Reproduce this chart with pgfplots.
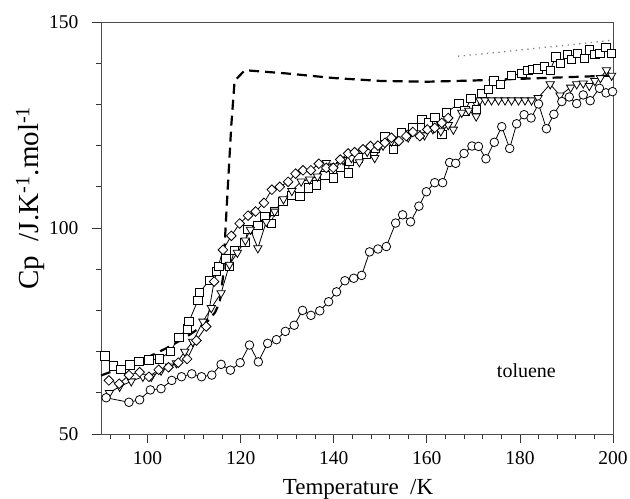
\documentclass[border=0pt]{standalone}
\usepackage{fontspec}
\setmainfont{Liberation Serif}
\usepackage{pgfplots}
\pgfplotsset{compat=1.18}
\begin{document}
\begin{tikzpicture}
\useasboundingbox (-101bp,-65bp) rectangle (529bp,434bp);
\begin{axis}[
  at={(0,0)}, anchor=south west,
  scale only axis, width=512bp, height=412bp,
  xmin=90, xmax=200, ymin=50, ymax=150,
  xtick={100,120,...,200}, ytick={50,100,150},
  minor xtick={92,96,104,108,112,116,124,128,132,136,144,148,152,156,164,168,172,176,184,188,192,196},
  minor ytick={60,70,80,90,110,120,130,140},
  tick align=outside, xtick pos=bottom, ytick pos=left,
  major tick length=9bp, minor tick length=5bp,
  axis line style={draw=black!70, line width=0.9pt},
  every tick/.style={draw=black!80, line width=0.8pt},
  /pgf/number format/assume math mode=true,
  tick label style={font=\fontsize{19.5bp}{22bp}\selectfont},
  xticklabel style={yshift=-5bp},
  yticklabel style={xshift=-10bp},
  xlabel={Temperature\ \ /K},
  ylabel={Cp\ \ /J.K\textsuperscript{-1}.mol\textsuperscript{-1}},
  xlabel style={font=\fontsize{23bp}{26bp}\selectfont, at={(axis description cs:0.502,-0.148)}, anchor=base},
  ylabel style={font=\fontsize{29bp}{32bp}\selectfont, at={(axis description cs:-0.138,0.573)}, anchor=center},
  clip=false,
]
% thick dashed curve
\addplot[black, line width=2.2pt, dash pattern=on 10bp off 6bp, no markers] coordinates {
(90,64.2)(95,66.3)(100,68.6)(104,70.8)(108,73.3)(111,75.6)(113,77.5)(114.5,79.5)(115.5,82)(116.2,88)(117,105)(118,125)(118.7,135.7)(120.9,138.3)(130,137.5)(140,136.4)(150,135.7)(160,135.5)(170,135.8)(180,136.2)(190,136.6)(200,137)
};
% dotted grey
\addplot[black!50, line width=1.3pt, dash pattern=on 1.3bp off 4.5bp, no markers] coordinates {
(166.7,141.7)(175,142.6)(185,143.8)(192,144.6)(200,145.6)
};
% squares
\addplot[black, line width=0.8pt, mark=square*, mark size=4.2bp, mark options={fill=white, solid}] coordinates {
(90.8,69.0)(92.6,66.5)(94.3,65.7)(96.2,66.8)(98.1,67.6)(100.3,68.0)(102.6,68.2)(104.9,70.0)(106.7,73.5)(108.5,75.5)(108.9,77.3)(110.8,82.4)(111.2,84.4)(113.3,87.3)(114.8,89.5)(115.3,90.7)(116.8,92.5)(117.6,90.7)(118.7,94.5)(120.9,96.5)(121.6,99.6)(123.7,100.6)(125.2,102.8)(126.6,101.1)(127.3,104.0)(129.1,106.5)(130.9,107.9)(132.7,107.7)(134.5,109.7)(136.3,110.5)(138.1,112.7)(139.9,112.2)(141.4,114.8)(143.1,113.4)(143.4,116.2)(145.2,117.0)(147.0,118.0)(149.0,119.3)(151.0,122.3)(152.8,119.1)(154.6,123.1)(157.0,124.3)(158.9,126.4)(160.4,125.6)(161.7,126.8)(163.2,122.7)(164.2,128.0)(166.9,130.2)(168.2,128.4)(169.5,131.4)(170.7,128.8)(171.8,132.7)(173.2,133.6)(174.4,135.7)(175.8,134.8)(178.2,137.0)(180.4,137.5)(181.7,138.3)(182.7,138.5)(183.9,138.6)(185.2,139.2)(186.5,138.3)(187.7,141.5)(188.7,140.0)(190.2,142.1)(191.1,140.9)(192.3,142.4)(193.8,141.1)(194.9,143.2)(196.1,142.1)(197.2,142.4)(198.5,143.8)(199.7,142.4)
};
% down triangles
\addplot[black, line width=0.8pt, mark=triangle*, mark size=4.8bp, mark options={fill=white, solid, rotate=180}] coordinates {
(91.8,60.0)(94.0,61.5)(96.5,62.8)(99.0,63.9)(100.8,63.9)(102.9,65.4)(104.7,66.4)(106.2,67.2)(108.0,70.0)(109.7,72.4)(111.9,77.3)(113.7,80.6)(115.8,84.2)(117.6,91.1)(119.3,94.0)(121.0,97.0)(122.1,99.6)(123.7,95.1)(125.5,101.5)(127.3,104.0)(129.2,107.0)(131.0,109.0)(133.0,111.3)(134.8,111.8)(136.5,112.5)(138.4,115.8)(140.2,115.0)(142.0,116.5)(143.8,117.0)(145.5,116.0)(147.2,118.5)(148.8,117.0)(150.6,120.0)(152.4,121.0)(154.2,121.5)(156.0,122.0)(157.8,123.0)(159.5,122.5)(161.3,124.0)(163.0,123.5)(164.6,125.0)(165.7,123.9)(167.5,128.0)(169.0,128.5)(170.6,127.1)(171.4,131.0)(172.5,131.0)(173.9,131.0)(175.4,131.0)(176.8,131.0)(178.2,131.0)(179.7,131.0)(181.1,131.0)(182.5,131.0)(183.9,131.6)(186.5,134.9)(188.6,132.2)(190.9,134.1)(192.2,134.9)(193.6,135.1)(194.9,134.5)(196.1,135.7)(197.3,136.4)(198.6,138.3)(199.7,137.0)
};
% diamonds
\addplot[black, line width=0.8pt, mark=square*, mark size=3.4bp, mark options={fill=white, solid, rotate=45}] coordinates {
(91.7,63.0)(93.9,62.2)(96.0,64.3)(98.3,65.0)(100.3,63.9)(102.4,65.6)(104.5,66.2)(106.6,67.3)(108.5,68.2)(110.5,72.7)(112.6,76.1)(114.3,87.0)(116.2,94.7)(118.0,98.1)(119.8,101.1)(121.6,103.0)(123.2,104.0)(125.0,106.1)(126.7,109.3)(128.4,110.0)(130.2,111.2)(131.8,113.2)(133.4,114.0)(135.1,114.0)(136.8,115.6)(138.4,114.6)(139.9,114.6)(141.4,116.6)(143.1,118.1)(144.5,118.4)(146.3,119.1)(147.9,119.9)(149.5,120.0)(151.0,120.7)(152.4,121.9)(154.0,121.1)(155.6,122.3)(157.0,123.3)(158.5,122.3)(160.1,123.9)(161.7,124.3)(163.2,125.5)(164.6,126.7)
};
% circles
\addplot[black, line width=0.8pt, mark=*, mark size=4.3bp, mark options={fill=white, solid}] coordinates {
(91.1,58.8)(96.0,57.7)(98.3,58.3)(100.6,60.7)(102.9,61.0)(105.2,63.0)(107.3,63.9)(109.5,64.6)(111.6,63.9)(113.8,64.3)(115.8,66.9)(117.8,65.5)(119.9,67.3)(121.9,71.6)(123.8,67.5)(125.8,72.0)(127.7,72.9)(129.6,74.9)(131.5,76.4)(133.3,80.0)(135.1,78.8)(137.0,79.9)(138.9,82.1)(140.6,84.5)(142.4,87.2)(144.3,87.8)(146.0,88.5)(147.7,94.2)(149.5,94.9)(151.3,95.5)(153.3,101.2)(154.8,103.2)(156.5,101.5)(158.3,105.3)(159.9,108.8)(161.7,111.0)(163.4,111.0)(164.9,115.9)(166.2,115.7)(168.0,118.1)(169.7,119.9)(171.1,119.8)(172.7,116.8)(174.5,120.8)(176.1,124.6)(177.8,119.3)(179.3,125.3)(180.9,127.5)(182.4,126.7)(184.0,130.1)(185.7,124.1)(187.3,127.6)(189.0,130.7)(190.6,131.8)(192.2,130.2)(193.6,132.3)(195.1,130.9)(197.1,133.9)(198.5,132.8)(199.9,133.1)
};
\node[anchor=base, font=\fontsize{20bp}{23bp}\selectfont] at (axis cs:181.4,63.6) {toluene};
\end{axis}
\end{tikzpicture}
\end{document}
